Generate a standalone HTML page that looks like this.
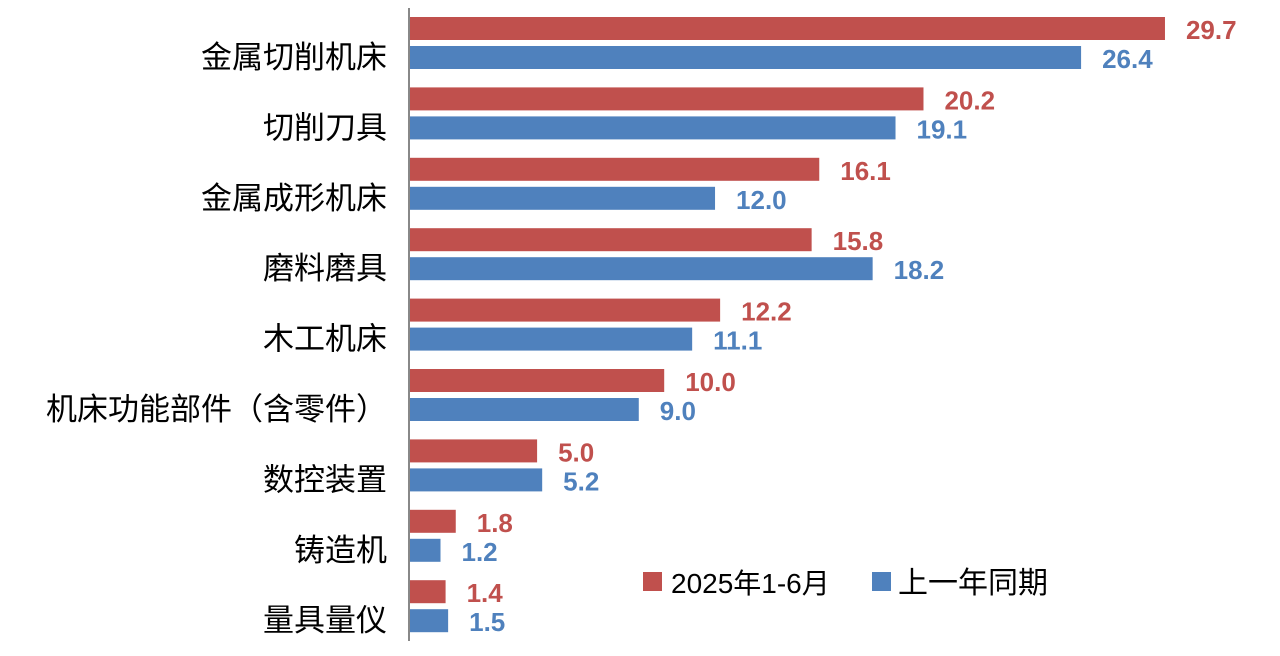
<!DOCTYPE html>
<html><head><meta charset="utf-8"><style>
body{margin:0;background:#fff;}
svg text{font-family:"Liberation Sans","Noto Sans CJK SC",sans-serif;}
.c{font-size:31px;fill:#000;text-anchor:end;}
.v{font-size:26px;font-weight:bold;}
.r{fill:#C0504D}.b{fill:#4F81BD}
</style></head><body>
<svg width="1280" height="651" xmlns="http://www.w3.org/2000/svg">
<line x1="409" y1="8" x2="409" y2="641" stroke="#888" stroke-width="2"/>
<g id="bars"></g>
<rect x="643" y="572" width="19" height="19" class="r"/>
<text x="671" y="593" style="font-size:28px">2025年1-6月</text>
<rect x="872" y="572" width="19" height="19" class="b"/>
<text x="898" y="593" style="font-size:30px">上一年同期</text>
</svg>
<script>
var d=[["金属切削机床",29.7,26.4],["切削刀具",20.2,19.1],["金属成形机床",16.1,12.0],["磨料磨具",15.8,18.2],["木工机床",12.2,11.1],["机床功能部件（含零件）",10.0,9.0],["数控装置",5.0,5.2],["铸造机",1.8,1.2],["量具量仪",1.4,1.5]];
var g=document.getElementById('bars'),s='',k=25.42;
d.forEach(function(r,i){var y=17+i*70.4;
s+='<rect x="410" y="'+y+'" width="'+(r[1]*k)+'" height="23" class="r"/>';
s+='<rect x="410" y="'+(y+29)+'" width="'+(r[2]*k)+'" height="23" class="b"/>';
s+='<text class="v r" x="'+(410+r[1]*k+21)+'" y="'+(y+22)+'">'+r[1].toFixed(1)+'</text>';
s+='<text class="v b" x="'+(410+r[2]*k+21)+'" y="'+(y+51)+'">'+r[2].toFixed(1)+'</text>';
s+='<text class="c" x="387" y="'+(y+51)+'">'+r[0]+'</text>';});
g.innerHTML=s;
</script>
</body></html>
